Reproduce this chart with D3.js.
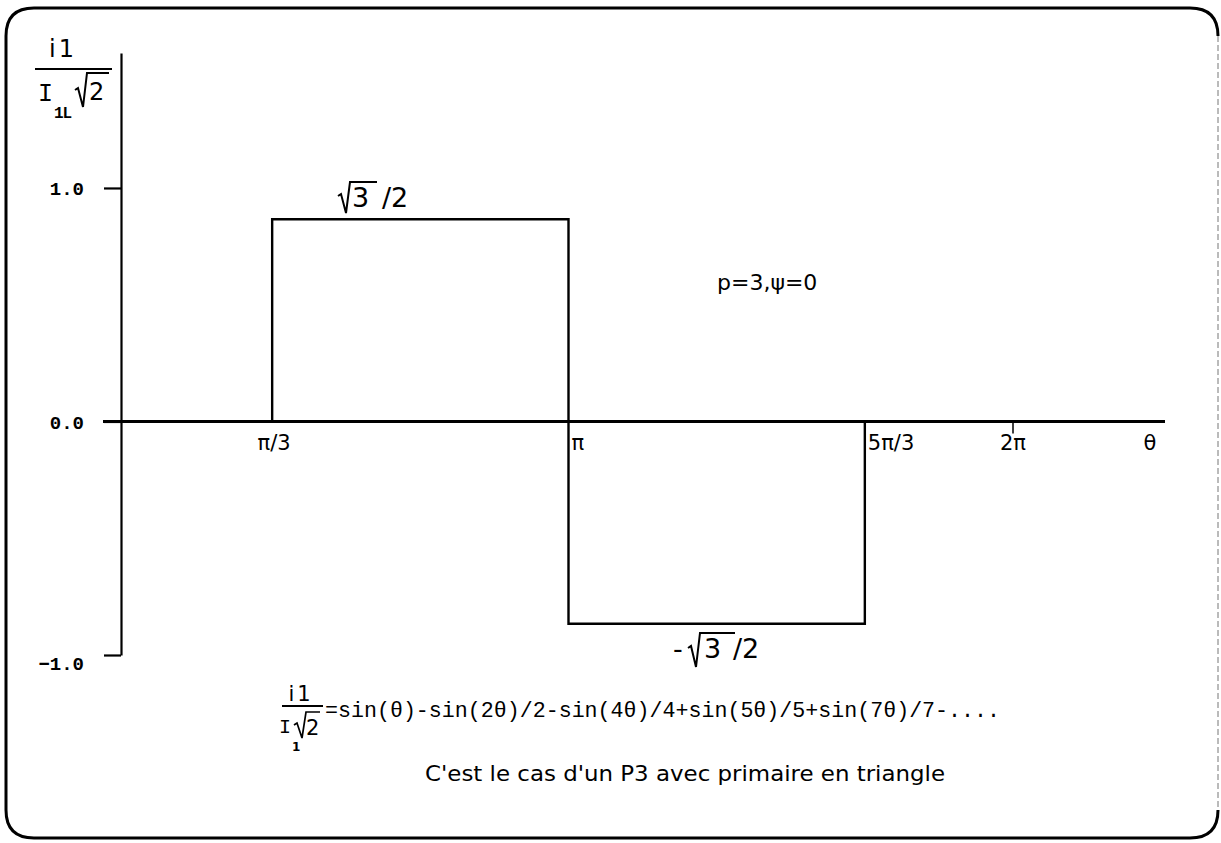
<!DOCTYPE html>
<html>
<head>
<meta charset="utf-8">
<script src="https://cdn.jsdelivr.net/npm/d3@7"></script>
<style>
  html, body { margin: 0; padding: 0; background: #fff; }
  svg text { fill: #000; }
</style>
</head>
<body>
<script>
const PI = Math.PI;

// Switching angles of the primary line current (radians) and its two levels
const thetaEdges = [PI / 3, PI, 5 * PI / 3];
const levels = [Math.sqrt(3) / 2, -Math.sqrt(3) / 2];

// Axis ticks
const yTickValues = [-1, 0, 1];
const xTickValues = [PI / 3, PI, 5 * PI / 3, 2 * PI];
const xTickLabels = ["π/3", "π", "5π/3", "2π"];

const W = 1221, H = 843;
const svg = d3.select("body").append("svg")
  .attr("width", W).attr("height", H)
  .style("display", "block");

const sans = "'DejaVu Sans', 'Liberation Sans', sans-serif";
const mono = "'Liberation Mono', 'DejaVu Sans Mono', monospace";

// Scales
const x = d3.scaleLinear().domain([0, 2 * PI]).range([124, 1013]);
const y = d3.scaleLinear().domain([-1, 1.578]).range([655, 53]);

// Rounded frame: heavy on left/top/bottom, light on the right edge
const fx0 = 6, fy0 = 8, fx1 = 1218, fy1 = 838, r = 28;
svg.append("path")
  .attr("d", `M${fx1 - r},${fy0} L${fx0 + r},${fy0} Q${fx0},${fy0} ${fx0},${fy0 + r}
              L${fx0},${fy1 - r} Q${fx0},${fy1} ${fx0 + r},${fy1} L${fx1 - r},${fy1}`)
  .attr("fill", "none").attr("stroke", "#000").attr("stroke-width", 3);
svg.append("path")
  .attr("d", `M${fx1 - r},${fy0} Q${fx1},${fy0} ${fx1},${fy0 + r}
              M${fx1},${fy1 - r} Q${fx1},${fy1} ${fx1 - r},${fy1}`)
  .attr("fill", "none").attr("stroke", "#000").attr("stroke-width", 3);
svg.append("line")
  .attr("x1", fx1).attr("x2", fx1).attr("y1", fy0 + r).attr("y2", fy1 - r)
  .attr("stroke", "#777").attr("stroke-width", 1).attr("stroke-dasharray", "6 3");

// Y axis
const yAxis = d3.axisLeft(y)
  .tickValues(yTickValues)
  .tickSize(17)
  .tickSizeOuter(0)
  .tickPadding(20)
  .tickFormat(d3.format(".1f"));
const gy = svg.append("g").attr("transform", `translate(${x(0) - 3},0)`).call(yAxis);
gy.select(".domain").attr("stroke", "#000").attr("stroke-width", 2.2);
gy.selectAll(".tick line").attr("stroke", "#000").attr("stroke-width", 2.2);
gy.selectAll(".tick text")
  .attr("font-family", mono).attr("font-weight", "bold").attr("font-size", 19)
  .attr("dy", "0.36em");
gy.selectAll(".tick").filter(d => d === -1).select("text").attr("dy", "0.75em");

// X axis (zero line) with tick labels
const axisY = y(0);
svg.append("line")
  .attr("x1", 103).attr("x2", 1165).attr("y1", axisY).attr("y2", axisY)
  .attr("stroke", "#000").attr("stroke-width", 3);

const xLabelAnchor = ["middle", "start", "start", "middle"];
const xLabelShift = [2, 3, 3, 0];
svg.append("g").selectAll("text")
  .data(xTickValues)
  .join("text")
  .attr("x", (d, i) => x(d) + xLabelShift[i])
  .attr("y", axisY + 29)
  .attr("text-anchor", (d, i) => xLabelAnchor[i])
  .attr("font-family", sans).attr("font-size", 21)
  .text((d, i) => xTickLabels[i]);
// short tick at 2π
svg.append("line")
  .attr("x1", x(2 * PI)).attr("x2", x(2 * PI))
  .attr("y1", axisY).attr("y2", axisY + 12)
  .attr("stroke", "#000").attr("stroke-width", 1.5);
svg.append("text")
  .attr("x", 1150).attr("y", axisY + 29)
  .attr("text-anchor", "middle")
  .attr("font-family", sans).attr("font-size", 21)
  .text("θ");

// Square-wave current
const stepPoints = [
  [thetaEdges[0], 0],
  [thetaEdges[0], levels[0]],
  [thetaEdges[1], levels[0]],
  [thetaEdges[1], levels[1]],
  [thetaEdges[2], levels[1]],
  [thetaEdges[2], 0]
];
svg.append("path")
  .datum(stepPoints)
  .attr("d", d3.line().x(d => x(d[0])).y(d => y(d[1])))
  .attr("fill", "none").attr("stroke", "#000").attr("stroke-width", 2.4);

// Helper: draw a radical sign with its overbar
function radical(g, x0, yTip, yBot, yTop, xEnd, w = 1.8) {
  g.append("path")
    .attr("d", `M${x0},${yTip} L${x0 + 3},${yTip - 2} L${x0 + 8},${yBot} L${x0 + 12},${yTop} L${xEnd},${yTop}`)
    .attr("fill", "none").attr("stroke", "#000").attr("stroke-width", w)
    .attr("stroke-linejoin", "miter");
}

// Level annotations
const ann = svg.append("g").attr("font-family", sans).attr("font-size", 27);
radical(ann, 338, 196, 213, 182, 377, 2);
ann.append("text").attr("x", 352).attr("y", 207).text("3");
ann.append("text").attr("x", 382).attr("y", 207).text("/2");

ann.append("text").attr("x", 673).attr("y", 658).text("-");
radical(ann, 688, 648, 667, 633, 735, 2);
ann.append("text").attr("x", 704).attr("y", 658).text("3");
ann.append("text").attr("x", 733).attr("y", 658).text("/2");

svg.append("text")
  .attr("x", 717).attr("y", 290)
  .attr("font-family", sans).attr("font-size", 22)
  .text("p=3,ψ=0");

// Y-axis title: i1 / (I1L √2)
const yt = svg.append("g").attr("font-family", sans);
yt.append("text").attr("x", 63).attr("y", 57).attr("text-anchor", "middle")
  .attr("font-size", 24).attr("letter-spacing", 3).text("i1");
yt.append("line").attr("x1", 35).attr("x2", 112).attr("y1", 69).attr("y2", 69)
  .attr("stroke", "#000").attr("stroke-width", 2.2);
yt.append("text").attr("x", 38).attr("y", 101).attr("font-family", mono)
  .attr("font-size", 25).text("I");
yt.append("text").attr("x", 54).attr("y", 118).attr("font-family", mono)
  .attr("font-size", 16).attr("font-weight", "bold").attr("letter-spacing", -1).text("1L");
radical(yt, 75, 90, 107, 73, 109, 2);
yt.append("text").attr("x", 89).attr("y", 100).attr("font-size", 24).text("2");

// Fourier series of the current
const fs = svg.append("g");
fs.append("text").attr("x", 301).attr("y", 701).attr("text-anchor", "middle")
  .attr("font-family", sans).attr("font-size", 21).attr("letter-spacing", 3).text("i1");
fs.append("line").attr("x1", 282).attr("x2", 323).attr("y1", 706).attr("y2", 706)
  .attr("stroke", "#000").attr("stroke-width", 1.8);
fs.append("text").attr("x", 279).attr("y", 733).attr("font-family", mono)
  .attr("font-size", 20).text("I");
fs.append("text").attr("x", 292).attr("y", 751).attr("font-family", sans)
  .attr("font-size", 12).attr("font-weight", "bold").text("1");
radical(fs, 294, 725, 738, 712, 320, 1.7);
fs.append("text").attr("x", 306).attr("y", 735).attr("font-family", sans)
  .attr("font-size", 21).text("2");
fs.append("text").attr("x", 325).attr("y", 717)
  .attr("font-family", mono).attr("font-size", 22)
  .attr("textLength", 675).attr("lengthAdjust", "spacingAndGlyphs")
  .text("=sin(θ)-sin(2θ)/2-sin(4θ)/4+sin(5θ)/5+sin(7θ)/7-....");

svg.append("text")
  .attr("x", 425).attr("y", 781)
  .attr("font-family", sans).attr("font-size", 21)
  .attr("textLength", 520).attr("lengthAdjust", "spacingAndGlyphs")
  .text("C'est le cas d'un P3 avec primaire en triangle");
</script>
</body>
</html>
